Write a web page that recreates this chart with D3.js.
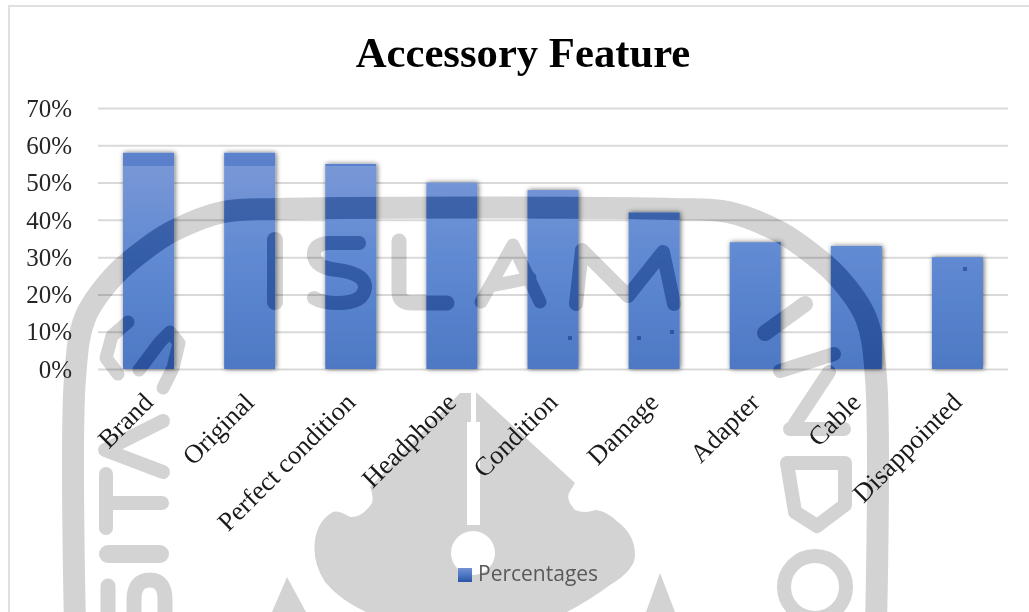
<!DOCTYPE html>
<html>
<head>
<meta charset="utf-8">
<script src="https://d3js.org/d3.v7.min.js"></script>
<style>
html,body{margin:0;padding:0;background:#fff;}
svg{display:block;}
</style>
</head>
<body>
<svg id="chart" width="1029" height="612"></svg>
<script>
// Chart content
const chartTitle = "Accessory Feature";
const seriesName = "Percentages";
const categories = ["Brand","Original","Perfect condition","Headphone","Condition","Damage","Adapter","Cable","Disappointed"];
const percentages = [58,58,55,50,48,42,34,33,30];
const tickValues = [0,10,20,30,40,50,60,70];

const svg = d3.select("#chart");
const defs = svg.append("defs");

const x = d3.scaleBand().domain(categories).range([98,1008]).paddingInner(0.495).paddingOuter(0.2475);
const y = d3.scaleLinear().domain([0,70]).range([369,108]);

// Bar fill gradient and soft shadow
const grad = defs.append("linearGradient").attr("id","barFill")
  .attr("gradientUnits","userSpaceOnUse").attr("x1",0).attr("x2",0).attr("y1",y(58)).attr("y2",y(0));
grad.append("stop").attr("offset",0).attr("stop-color","#7c99d7");
grad.append("stop").attr("offset",0.5).attr("stop-color","#5f89d2");
grad.append("stop").attr("offset",1).attr("stop-color","#4e78c4");
const swatch = defs.append("linearGradient").attr("id","swatchFill").attr("x1",0).attr("y1",0).attr("x2",0).attr("y2",1);
swatch.append("stop").attr("offset",0).attr("stop-color","#7392d6");
swatch.append("stop").attr("offset",0.45).attr("stop-color","#5279c4");
swatch.append("stop").attr("offset",1).attr("stop-color","#2a55a5");
const shadow = defs.append("filter").attr("id","barShadow").attr("x","-30%").attr("y","-10%").attr("width","160%").attr("height","120%");
shadow.append("feDropShadow").attr("dx",1).attr("dy",0).attr("stdDeviation",2.6).attr("flood-color","#000").attr("flood-opacity",0.6);

// Clip that limits the darker stamp tint to the bars
defs.append("clipPath").attr("id","barClip").selectAll("rect").data(percentages).join("rect")
  .attr("x",(d,i)=>x(categories[i])).attr("y",d=>y(d))
  .attr("width",x.bandwidth()).attr("height",d=>y(0)-y(d));

// Frame: left and top edges only
svg.append("path").attr("d","M9 612V6H1029").attr("fill","none").attr("stroke","#e0e0e0").attr("stroke-width",2);

// University stamp printed across the page
const ringLeft = [[75,625],[75,378],[85,318],[113,277],[148,247],[173,231],[223,212],[280,209]];
const ringRight = ringLeft.map(p=>[951-p[0],p[1]]).reverse();
const ringLine = d3.line().curve(d3.curveCatmullRom);
const stampStrokes = [
  {d:ringLine(ringLeft.concat(ringRight)),w:22},
  {d:"M275 240V302",w:16},
  {d:"M359 243H328Q313 244 314 256Q316 268 338 270Q366 274 365 288Q363 303 338 303Q322 303 314 298",w:14},
  {d:"M399 241V292Q399 303 412 303H447",w:15},
  {d:"M481 302L513 245L540 302M496 285L530 278",w:13},
  {d:"M576 304L582 250L628 296L663 252L674 304",w:14},
  {d:"M128 322L112 336L106 358L118 374M139 370L160 342L170 332L179 343L173 368L163 388",w:13},
  {d:"M163 421L105 450L163 472",w:14},
  {d:"M106 474V528M114 503H162",w:14},
  {d:"M108 554H160",w:18},
  {d:"M108 586V618M134 618V600Q134 580 150 580Q165 580 165 600V618",w:15},
  {d:"M765 333L805 304",w:16},
  {d:"M780 371L834 354M829 372L794 425M790 429H844",w:14},
  {d:"M787 463H845V505L817 526L795 512Z",w:14}
];
const central = "M460 393L370 487Q374 497 372 503Q362 518 350 517Q338 510 333 512Q318 520 315 540Q312 562 325 582Q340 600 366 612H567Q590 600 610 585Q635 570 635 555Q635 535 618 522Q605 510 595 510Q585 514 575 510Q566 500 569 493L575 483L477 393Z";
const triangles = ["M660 573L646 612H675Z","M287 577L272 612H306Z"];
const specks = [[570,338],[639,338],[672,332],[965,269]];

function drawStamp(g, color){
  g.selectAll("path.stroke").data(stampStrokes).join("path").attr("class","stroke")
    .attr("d",d=>d.d).attr("fill","none").attr("stroke",color).attr("stroke-width",d=>d.w)
    .attr("stroke-linejoin","round").attr("stroke-linecap","round");
  g.append("circle").attr("cx",815).attr("cy",587).attr("r",31).attr("fill","none").attr("stroke",color).attr("stroke-width",14);
  g.append("path").attr("d",central).attr("fill",color);
  g.selectAll("path.tri").data(triangles).join("path").attr("class","tri").attr("d",d=>d).attr("fill",color);
  // Slit and round opening inside the central emblem
  g.append("path").attr("d","M471 390H476V422H480V525H467V422H471Z").attr("fill","#fff");
  g.append("circle").attr("cx",473).attr("cy",553).attr("r",22).attr("fill","#fff");
}
const paperStamp = svg.append("g").attr("class","stamp");
drawStamp(paperStamp, "#d3d3d3");

// Gridlines and axes
const gridAxis = d3.axisLeft(y).tickValues(tickValues).tickSize(-(1008-98)).tickFormat("");
svg.append("g").attr("class","grid").attr("transform","translate(98,0)").style("mix-blend-mode","multiply").call(gridAxis)
  .call(g=>g.select(".domain").remove())
  .call(g=>g.selectAll("line").attr("stroke","#d9d9d9").attr("stroke-width",2));

// Bars
svg.append("g").attr("class","bars").selectAll("rect").data(percentages).join("rect")
  .attr("x",(d,i)=>x(categories[i])).attr("y",d=>y(d))
  .attr("width",x.bandwidth()).attr("height",d=>y(0)-y(d))
  .attr("fill","url(#barFill)").attr("filter","url(#barShadow)");

// Stamp tint where it crosses the bars; the outer group carries the blend
const tint = svg.append("g").attr("clip-path","url(#barClip)").style("mix-blend-mode","multiply");
tint.append("rect").attr("x",98).attr("y",100).attr("width",910).attr("height",270).attr("fill","#fff");
tint.append("rect").attr("x",98).attr("y",140).attr("width",910).attr("height",26).attr("fill","#bfd9f2");
drawStamp(tint, "#8cadcc");
tint.selectAll("rect.speck").data(specks).join("rect").attr("class","speck")
  .attr("x",d=>d[0]-2).attr("y",d=>d[1]-2).attr("width",4).attr("height",4).attr("fill","#8cadcc");

// Value axis labels
const yAxis = d3.axisLeft(y).tickValues(tickValues).tickSize(0).tickPadding(26).tickFormat(d=>d+"%");
svg.append("g").attr("transform","translate(98,0)").call(yAxis)
  .call(g=>g.select(".domain").remove())
  .call(g=>g.selectAll("text").attr("font-family","'Liberation Serif'").attr("font-size",25).attr("fill","#262626").attr("dy","0.33em"));

// Category labels, rotated
const xAxis = d3.axisBottom(x).tickSize(0).tickPadding(0);
svg.append("g").attr("transform","translate(0,369)").call(xAxis)
  .call(g=>g.select(".domain").remove())
  .call(g=>g.selectAll("text")
    .attr("font-family","'Liberation Serif'").attr("font-size",26.5).attr("fill","#1a1a1a")
    .attr("text-anchor","end").attr("dy",0).attr("y",0)
    .attr("transform","translate(6,35) rotate(-45)"));

// Title
svg.append("text").attr("x",523).attr("y",67).attr("text-anchor","middle")
  .attr("font-family","'Liberation Serif'").attr("font-weight","bold").attr("font-size",42.7).attr("fill","#000")
  .text(chartTitle);

// Legend
svg.append("rect").attr("x",458).attr("y",568).attr("width",14).attr("height",14).attr("fill","url(#swatchFill)");
svg.append("text").attr("x",478).attr("y",581).attr("font-family","'Open Sans'").attr("font-size",21).attr("fill","#595959").text(seriesName);
</script>
</body>
</html>
